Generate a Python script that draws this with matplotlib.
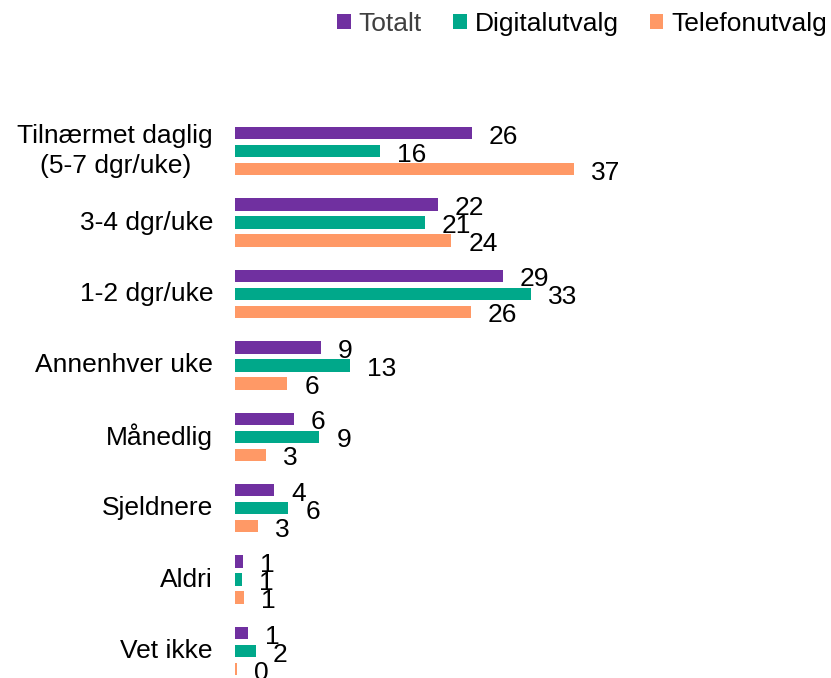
import matplotlib.pyplot as plt
from matplotlib.patches import Patch
from matplotlib.transforms import offset_copy

# --- DATA ---
categories = ["Tilnærmet daglig\n(5-7 dgr/uke)", "3-4 dgr/uke", "1-2 dgr/uke",
              "Annenhver uke", "Månedlig", "Sjeldnere", "Aldri", "Vet ikke"]
series_names = ["Totalt", "Digitalutvalg", "Telefonutvalg"]
# bar lengths (measured) and the printed labels
totalt = [25.8, 22.1, 29.2, 9.35, 6.4, 4.3, 0.9, 1.4]
digital = [15.8, 20.7, 32.3, 12.5, 9.2, 5.8, 0.8, 2.3]
telefon = [37.0, 23.6, 25.7, 5.7, 3.4, 2.5, 1.0, 0.2]
totalt_lbl = [26, 22, 29, 9, 6, 4, 1, 1]
digital_lbl = [16, 21, 33, 13, 9, 6, 1, 2]
telefon_lbl = [37, 24, 26, 6, 3, 3, 1, 0]
colors = ["#7030A0", "#00A88A", "#FF9966"]

plt.rcParams['font.family'] = ['Liberation Sans', 'DejaVu Sans']
FS = 19

W, H = 831, 678
fig = plt.figure(figsize=(W / 100, H / 100), dpi=100)

# axes placed in pixel terms: x zero at 235px, 9.17 px per unit
x0_px = 235
px_per_unit = 9.17
xmax = 40
ax_w = xmax * px_per_unit
ytop, ybot = -0.8, 7.378
ax_top_px = 94
ax = fig.add_axes([x0_px / W, 0, ax_w / W, 1 - ax_top_px / H])
ax.set_xlim(0, xmax)
ax.set_ylim(ybot, ytop)
ax.axis('off')

bar_h = 0.175
step = 0.252
all_series = [(totalt, totalt_lbl), (digital, digital_lbl), (telefon, telefon_lbl)]
lbl_tr = offset_copy(ax.transData, fig=fig, x=17 * 0.72, y=-3.5 * 0.72, units='points')
for j, (vals, lbls) in enumerate(all_series):
    ys = [i + (j - 1) * step for i in range(len(categories))]
    ax.barh(ys, vals, height=bar_h, color=colors[j], edgecolor='none')
    for y, v, lb in zip(ys, vals, lbls):
        ax.text(v, y, str(lb), transform=lbl_tr, ha='left', va='center',
                fontsize=FS, color='black')

# category labels
cat_tr = offset_copy(ax.transData, fig=fig, x=-22 * 0.72, y=0, units='points')
for i, cat in enumerate(categories):
    ax.text(0, i, cat, transform=cat_tr, ha='right', va='center', multialignment='center',
            fontsize=FS, color='black', linespacing=1.32)

# legend
handles = [Patch(facecolor=c, edgecolor='none') for c in colors]
leg = fig.legend(handles, series_names, loc='center right', ncol=3,
                 bbox_to_anchor=(827 / W, 1 - 24 / H), frameon=False, fontsize=FS,
                 handlelength=0.5, handleheight=0.5, handletextpad=0.3,
                 columnspacing=1.2, borderpad=0, borderaxespad=0)
leg.get_texts()[0].set_color('#404040')

fig.savefig("out.png", dpi=100)
